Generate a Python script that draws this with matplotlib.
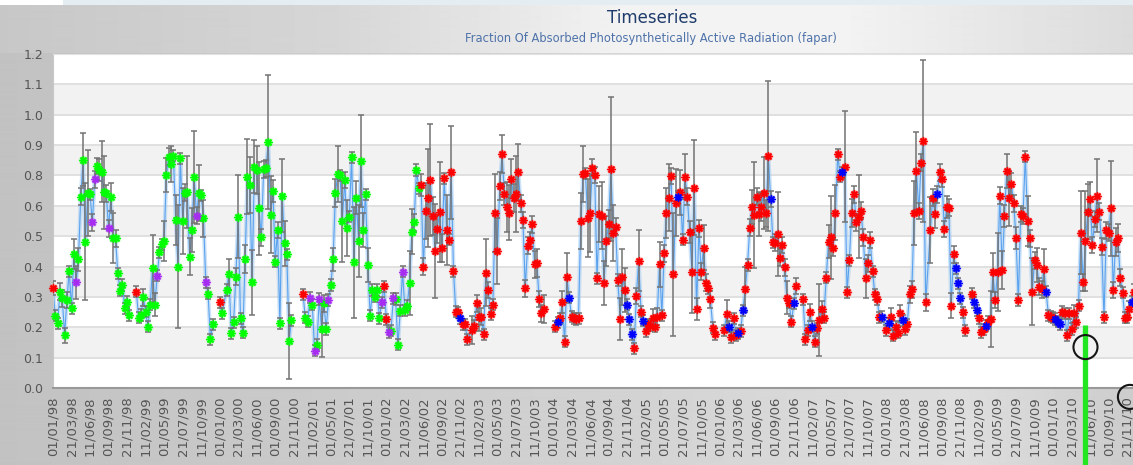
import numpy as np
import matplotlib.pyplot as plt
from matplotlib.patches import Rectangle

# dekad index counted from 01/01/98 (three dekads per month)
dekad = [*range(0, 34), *range(36, 70), 72, 73, *range(75, 104), *range(108, 180),
         *range(181, 213), *range(217, 287), *range(290, 322), *range(324, 359),
         *range(360, 378), *range(379, 395), *range(397, 468)]

fapar = [
    # 1998
    .358, .259, .232, .346, .322, .190, .316, .420, .286, .480,
    .380, .462, .687, .820, .526, .700, .696, .595, .750, .798,
    .783, .777, .703, .700, .574, .687, .538, .538, .412, .350,
    .370, .286, .310, .262,
    # 1999
    .346, .253, .262, .326, .274, .220, .300, .430, .300, .404,
    .487, .516, .528, .765, .831, .805, .835, .603, .436, .825,
    .600, .702, .705, .472, .568, .759, .619, .700, .693, .610,
    .380, .338, .175, .229,
    .308, .268, .352, .408, .196, .236, .400,
    # 2000
    .616, .250, .199, .462, .759, .729, .380, .795, .783, .645,
    .541, .786, .789, .883, .622, .708, .454, .568, .232, .691,
    .520, .480, .170, .244,
    # 2001 - 2002
    .337, .253, .238, .325, .300, .134, .155, .320, .212, .304,
    .212, .316, .370, .462, .700, .768, .765, .600, .747, .576,
    .616, .829, .451, .684, .528, .816, .568, .696, .442, .259,
    .352, .328, .352, .250, .308, .366, .247, .200, .206, .322,
    .320, .155, .277, .418, .280, .295, .376, .562, .595, .783,
    .717,
    # 2002 - 2003
    .729, .436, .637, .681, .747, .618, .492, .571, .631, .504,
    .753, .568, .532, .775, .420, .274, .272, .250, .229, .229,
    .175,
    .208, .224, .304, .256, .256, .193, .414, .352, .266, .300,
    .630, .492, .726, .841, .696, .651, .630, .751, .684, .696,
    .775, .663, .604, .358, .511, .532, .588, .444, .448, .320,
    .268, .284,
    # 2004 - 2006
    .220, .236, .250, .308, .166, .400, .325, .256, .250, .248,
    .250, .600, .768, .771, .610, .630, .792, .765, .394, .624,
    .619, .378, .528, .588, .787, .558, .580, .388, .247, .400,
    .352, .300, .247, .193, .143, .331, .457, .274, .242, .205,
    .229, .224, .253, .220, .256, .444, .262, .484, .630, .684,
    .762, .408, .666, .687, .703, .532, .759, .687, .560, .418,
    .720, .284, .574, .418, .504, .378, .358, .319, .217, .194,
    .208, .266, .220, .182, .250, .190, .196, .205, .280, .354,
    .442, .576, .651, .622, .687, .625, .651, .700, .627, .834,
    .679, .523,
    # 2006 - 2008
    .522, .553, .468, .514, .434, .325, .306, .238, .304, .366,
    .319, .175, .208, .272, .220, .166, .214, .244, .284, .253,
    .396, .526, .541, .504, .630, .840, .759, .775, .795, .344,
    .459, .630, .696, .595, .616, .637, .541, .394, .448, .532,
    .420, .337, .320, .254, .256,
    .208, .232, .256, .188, .220, .199, .268, .244, .211, .229,
    .337, .354, .627, .780, .636, .810, .887, .308,
    .568, .684, .625, .696, .775, .751, .571, .651, .648, .296,
    .480,
    # 2008 - 2010
    .430, .376, .322, .272, .208,
    .338, .308, .280, .250, .200, .211, .224, .238, .247, .416,
    .316, .416, .691, .424, .618, .780, .681, .733, .663, .538,
    .316, .625, .618, .831, .600, .538, .346, .459, .442, .364,
    .354, .428, .346, .262, .256, .253, .248, .238, .229, .274,
    .268, .190, .268, .212, .268, .236, .295, .558, .380, .529,
    .634, .679, .514, .607, .691, .634, .508, .254, .566, .558,
    .646, .352, .526, .540, .396, .343, .253, .254, .283, .310,
    .344,
]

fapar_sd = [
    .025, .02, .02, .03, .03, .027, .03, .02, .02, .054,
    .06, .04, .03, .095, .21, .155, .02, .03, .03, .03,
    .04, .11, .13, .03, .03, .05, .09, .03, .02, .02,
    .02, .02, .02, .02,
    .02, .02, .022, .03, .02, .02, .02, .12, .04, .02,
    .02, .02, .073, .06, .03, .065, .02, .09, .22, .02,
    .12, .03, .13, .066, .08, .165, .03, .10, .02, .067,
    .02, .02, .02, .02,
    .02, .02, .02, .055, .02, .02, .03,
    .15, .02, .02, .05, .135, .10, .117, .095, .087, .168,
    .03, .03, .03, .24, .138, .04, .02, .03, .02, .13,
    .08, .02, .137, .02,
    .02, .02, .02, .02, .02, .02, .02, .02, .10, .03,
    .02, .02, .02, .04, .05, .10, .02, .147, .03, .10,
    .02, .02, .20, .06, .13, .165, .06, .02, .06, .02,
    .02, .02, .02, .02, .02, .02, .02, .02, .02, .02,
    .02, .02, .02, .02, .02, .02, .115, .08, .03, .02,
    .02,
    .04, .03, .10, .176, .20, .07, .17, .05, .18, .05,
    .02, .127, .02, .168, .02, .02, .02, .02, .02, .02,
    .02,
    .05, .02, .03, .05, .03, .02, .12, .03, .02, .02,
    .14, .12, .05, .067, .04, .09, .10, .07, .05, .137,
    .10, .03, .03, .03, .03, .03, .03, .05, .05, .03,
    .03, .05,
    .02, .02, .02, .04, .02, .086, .02, .02, .02, .02,
    .02, .10, .10, .02, .14, .14, .03, .03, .02, .10,
    .12, .08, .09, .05, .26, .10, .03, .02, .076, .10,
    .08, .02, .02, .02, .02, .03, .11, .02, .02, .02,
    .02, .02, .03, .02, .03, .08, .02, .03, .09, .12,
    .03, .22, .12, .02, .08, .02, .08, .03, .04, .15,
    .17, .04, .03, .03, .08, .03, .02, .03, .02, .02,
    .02, .05, .02, .02, .02, .02, .02, .02, .02, .08,
    .02, .03, .06, .19, .03, .08, .05, .13, .05, .27,
    .03, .02,
    .03, .15, .03, .03, .03, .06, .02, .02, .02, .03,
    .02, .02, .02, .03, .02, .02, .02, .13, .03, .02,
    .02, .06, .15, .03, .10, .02, .02, .02, .20, .02,
    .02, .05, .03, .03, .15, .03, .03, .07, .03, .03,
    .02, .02, .02, .02, .02,
    .02, .02, .03, .02, .02, .02, .03, .02, .02, .02,
    .03, .03, .115, .14, .03, .03, .29, .03,
    .12, .03, .05, .03, .03, .03, .03, .04, .03, .045,
    .03,
    .02, .02, .02, .02, .02,
    .02, .02, .02, .02, .02, .02, .02, .02, .10, .07,
    .03, .14, .03, .07, .04, .06, .10, .04, .03, .04,
    .02, .03, .03, .02, .09, .03, .12, .03, .06, .03,
    .03, .07, .02, .02, .02, .02, .02, .02, .02, .02,
    .02, .02, .02, .02, .03, .02, .02, .15, .03, .18,
    .10, .06, .03, .03, .13, .03, .03, .02, .03, .03,
    .17, .03, .05, .05, .03, .02, .02, .02, .03, .02,
    .03,
]

# source of each dekad value: green until mid 2002, red afterwards,
# with purple / blue / red exceptions listed by dekad
green_until = 159
red_dekads = [0, 36, 72, 108, 143, 144]
purple_dekads = [10, 17, 18, 24, 45, 62, 66, 111, 113, 115, 119, 142, 145, 147, 151]
blue_dekads = [176, 218, 223, 248, 249, 250, 255, 270, 292, 296, 298, 310, 320, 328,
               341, 358, 361, 367, 382, 390, 391, 392, 398, 399, 403, 429, 433, 434,
               435, 466]

source_colors = {'g': '#00ff00', 'r': '#ff0000', 'b': '#0000ff', 'p': '#a52cf0'}

ytick_labels = ['0.0', '0.1', '0.2', '0.3', '0.4', '0.5', '0.6', '0.8', '0.9', '1.0', '1.1', '1.2']
xtick_labels = [
    '01/01/98', '21/03/98', '11/06/98', '01/09/98', '21/11/98', '11/02/99', '01/05/99', '21/07/99', '11/10/99',
    '01/01/00', '21/03/00', '11/06/00', '01/09/00', '21/11/00', '11/02/01', '01/05/01', '21/07/01', '11/10/01',
    '01/01/02', '21/03/02', '11/06/02', '01/09/02', '21/11/02', '11/02/03', '01/05/03', '21/07/03', '11/10/03',
    '01/01/04', '21/03/04', '11/06/04', '01/09/04', '21/11/04', '11/02/05', '01/05/05', '21/07/05', '11/10/05',
    '01/01/06', '21/03/06', '11/06/06', '01/09/06', '21/11/06', '11/02/07', '01/05/07', '21/07/07', '11/10/07',
    '01/01/08', '21/03/08', '11/06/08', '01/09/08', '21/11/08', '11/02/09', '01/05/09', '21/07/09', '11/10/09',
    '01/01/10', '21/03/10', '11/06/10', '01/09/10', '21/11/10',
]

cursor_dekad, cursor_level = 446, 0.147
handle_dekad, handle_level = 465.2, -0.032

assert len(dekad) == len(fapar) == len(fapar_sd)

flags = []
for d in dekad:
    if d in blue_dekads:
        flags.append('b')
    elif d in purple_dekads:
        flags.append('p')
    elif d in red_dekads or d >= green_until:
        flags.append('r')
    else:
        flags.append('g')

W, H = 1133, 465
fig = plt.figure(figsize=(W / 100, H / 100), dpi=100)

# grey panel gradient behind everything
bg = fig.add_axes([0, 0, 1, 1], zorder=-5)
cols = np.linspace(0, 1, W)
top_shade = np.interp(cols, [0, .3, .55, .75, 1], [.78, .84, .95, .95, .86])
low_shade = np.interp(cols, [0, .5, .85, 1], [.76, .82, .87, .80])
shade = np.vstack([np.tile(top_shade, (54, 1)), np.tile(low_shade, (H - 54, 1))])
bg.imshow(shade, cmap='gray', vmin=0, vmax=1, aspect='auto', extent=[0, 1, 0, 1],
          origin='upper', interpolation='bilinear')
bg.axis('off')
fig.patches.append(Rectangle((0, 1 - 5 / H), 63 / W, 5 / H, transform=fig.transFigure,
                             facecolor='white', edgecolor='none', zorder=-1))
fig.patches.append(Rectangle((63 / W, 1 - 5 / H), 1 - 63 / W, 5 / H, transform=fig.transFigure,
                             facecolor='#e4eef2', edgecolor='none', zorder=-1))

ax = fig.add_axes([53 / W, 77 / H, 1080 / W, 334 / H])
ax.set_facecolor('white')
ax.set_xlim(0, 1080 / 2.315)
ax.set_ylim(0, 1.2)

yt = np.linspace(0, 1.2, len(ytick_labels))
for i in range(len(yt) - 1):
    if i % 2 == 1:
        ax.axhspan(yt[i], yt[i + 1], color='#f2f2f2', lw=0, zorder=0)
for y in yt[1:-1]:
    ax.axhline(y, color='#e0e0e0', lw=1.4, zorder=0.5)

# connecting line, broken where dekads are missing
xs, ys = [], []
for i, (d, v) in enumerate(zip(dekad, fapar)):
    if i and d - dekad[i - 1] > 2:
        xs.append(np.nan)
        ys.append(np.nan)
    xs.append(d)
    ys.append(v)
ax.plot(xs, ys, color='#9ec9f3', lw=3.0, alpha=0.5, zorder=2, solid_capstyle='round')
ax.plot(xs, ys, color='#5aa2ee', lw=0.8, zorder=2.1)

ax.errorbar(dekad, fapar, yerr=fapar_sd, fmt='none', ecolor='#737373', elinewidth=1.1,
            capsize=2.2, capthick=1.1, zorder=3)

x = np.array(dekad)
y = np.array(fapar)
for key, color in source_colors.items():
    sel = [i for i, f in enumerate(flags) if f == key]
    if not sel:
        continue
    ax.scatter(x[sel], y[sel], s=48, color=color, alpha=0.22, linewidths=0,
               marker='o', zorder=4, clip_on=False)
    ax.scatter(x[sel], y[sel], s=24, marker=(8, 2, 0), color=color, linewidths=1.1,
               zorder=5, clip_on=False)

# current dekad cursor
ax.plot([cursor_dekad, cursor_dekad], [0.226, -0.32], color='#22e622', lw=3.8,
        clip_on=False, zorder=6, solid_capstyle='butt')
ax.scatter([cursor_dekad, handle_dekad], [cursor_level, handle_level], s=300,
           facecolors='none', edgecolors='#151515', linewidths=1.5, clip_on=False, zorder=7)

ax.set_yticks(yt, ytick_labels)
ax.set_xticks(np.arange(0, 8 * len(xtick_labels), 8), xtick_labels, rotation=90)
ax.tick_params(axis='y', length=0, pad=7, labelsize=9, labelcolor='#555555')
ax.tick_params(axis='x', length=0, pad=6, labelsize=9.5, labelcolor='#555555')
ax.spines['right'].set_visible(False)
ax.spines['top'].set_color('#e2e2e2')
ax.spines['left'].set_color('#c8c8c8')
ax.spines['bottom'].set_color('#999999')
ax.spines['bottom'].set_linewidth(1.5)

fig.text(652 / W, 1 - 18 / H, 'Timeseries', ha='center', va='center', fontsize=12,
         color='#1f3c6c')
fig.text(651 / W, 1 - 38 / H, 'Fraction Of Absorbed Photosynthetically Active Radiation (fapar)',
         ha='center', va='center', fontsize=8.3, color='#4e72aa')

fig.savefig('out.png', dpi=100)
